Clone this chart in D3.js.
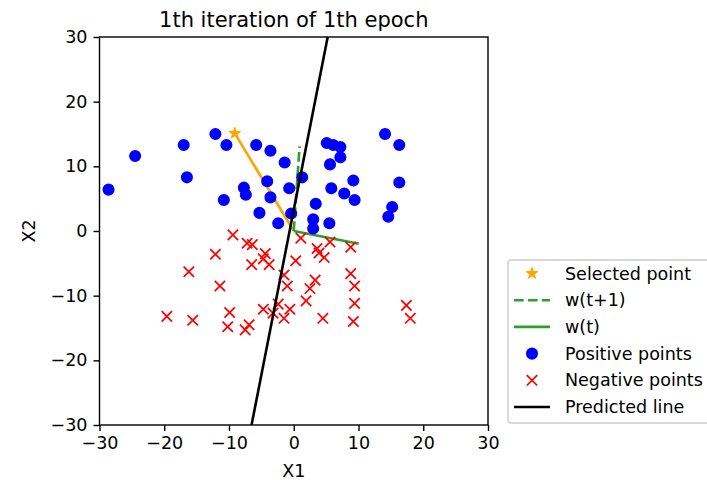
<!DOCTYPE html>
<html>
<head>
<meta charset="utf-8">
<script src="https://cdn.jsdelivr.net/npm/d3@7"></script>
<style>
  html, body { margin: 0; padding: 0; background: #fff; }
  svg { display: block; font-family: "DejaVu Sans", sans-serif; }
</style>
</head>
<body>
<svg id="chart" width="707" height="480"></svg>
<script>
// ---------------- data ----------------
const titleText = "1th iteration of 1th epoch";
const xTicks = [-30, -20, -10, 0, 10, 20, 30];
const yTicks = [-30, -20, -10, 0, 10, 20, 30];
const xTickLabels = ["\u221230", "\u221220", "\u221210", "0", "10", "20", "30"];
const yTickLabels = ["\u221230", "\u221220", "\u221210", "0", "10", "20", "30"];

const posX = [-28.6, -24.5, -17.0, -16.5, -12.1, -10.4, -5.8, -3.6, -1.4, -4.1, -0.7, -7.7, -7.4, -10.8, -5.3, -3.6, -2.4, -0.4, 1.3, 3.4, 3.0, 3.0, 5.5, 5.1, 6.1, 7.2, 7.2, 5.6, 5.8, 7.8, 9.2, 9.4, 14.1, 16.3, 16.3, 15.2, 14.6];
const posY = [6.4, 11.6, 13.3, 8.3, 15.0, 13.3, 13.3, 12.4, 10.6, 7.7, 6.6, 6.7, 5.6, 4.8, 2.8, 5.2, 1.2, 2.7, 8.3, 4.2, 1.8, 0.4, 1.2, 13.6, 13.3, 13.0, 11.4, 10.3, 6.6, 5.8, 7.8, 4.8, 15.0, 13.3, 7.5, 3.7, 2.2];

const negX = [-9.4, -7.2, -6.4, -12.1, -4.4, -4.7, -3.8, -6.5, -16.2, -1.5, -11.4, -1.0, -19.6, -15.6, -9.9, -10.2, -6.9, -7.5, -4.7, -3.2, -2.4, -0.6, -1.5, 0.3, 1.1, 5.6, 8.8, 3.6, 3.9, 4.7, 3.3, 2.5, 1.9, 4.5, 8.8, 9.4, 9.4, 9.2, 17.4, 18.0];
const negY = [-0.6, -1.9, -2.1, -3.6, -3.5, -4.3, -5.2, -5.2, -6.3, -6.8, -8.5, -8.5, -13.2, -13.8, -12.6, -14.8, -14.5, -15.3, -12.1, -12.7, -11.3, -12.1, -13.5, -4.6, -1.1, -1.7, -2.5, -2.7, -3.4, -4.1, -7.6, -8.9, -10.8, -13.5, -6.6, -8.5, -11.2, -14.0, -11.5, -13.5];

const selX = [-9.1];
const selY = [15.1];
const selLineX = [0, -9.1];
const selLineY = [0, 15.1];
const wNextX = [0, 0.9];
const wNextY = [0, 13.1];
const wCurX = [0, 10.05];
const wCurY = [0, -1.97];
const predX = [-6.52, 5.24];
const predY = [-30, 30];

const legendLabels = ["Selected point", "w(t+1)", "w(t)", "Positive points", "Negative points", "Predicted line"];

// ---------------- layout ----------------
const svg = d3.select("#chart");
const W = 707, H = 480;
const m = { left: 99.5, top: 37, right: 488, bottom: 425 };
const FS = 17.5;
const green = "#2ca02c";

svg.append("rect").attr("width", W).attr("height", H).attr("fill", "#fff");

const x = d3.scaleLinear().domain([-30, 30]).range([m.left, m.right]);
const y = d3.scaleLinear().domain([-30, 30]).range([m.bottom, m.top]);

svg.append("defs").append("clipPath").attr("id", "plotclip")
  .append("rect").attr("x", m.left).attr("y", m.top)
  .attr("width", m.right - m.left).attr("height", m.bottom - m.top);

const plot = svg.append("g").attr("clip-path", "url(#plotclip)");
const line = d3.line().x(d => x(d[0])).y(d => y(d[1]));
const zip = (a, b) => a.map((v, i) => [v, b[i]]);

const starSym = d3.symbol().type(d3.symbolStar).size(42);
function xPath(s) { return `M${-s},${-s}L${s},${s}M${-s},${s}L${s},${-s}`; }

// selected point line and star
plot.append("path").attr("d", line(zip(selLineX, selLineY)))
  .attr("fill", "none").attr("stroke", "#ffa500").attr("stroke-width", 2.6);
plot.selectAll(".star").data(zip(selX, selY)).join("path")
  .attr("transform", d => `translate(${x(d[0])},${y(d[1])})`)
  .attr("d", starSym()).attr("fill", "#ffa500").attr("stroke", "#ffa500").attr("stroke-width", 1);

// w(t+1) dashed
plot.append("path").attr("d", line(zip(wNextX, wNextY)))
  .attr("fill", "none").attr("stroke", green).attr("stroke-width", 2.6)
  .attr("stroke-dasharray", "9.7,4.2");
// w(t)
plot.append("path").attr("d", line(zip(wCurX, wCurY)))
  .attr("fill", "none").attr("stroke", green).attr("stroke-width", 2.6);

// positive points
plot.selectAll(".pos").data(zip(posX, posY)).join("circle")
  .attr("cx", d => x(d[0])).attr("cy", d => y(d[1])).attr("r", 5.3)
  .attr("fill", "#0000ff").attr("stroke", "#0000ff").attr("stroke-width", 1.5);

// negative points
plot.selectAll(".neg").data(zip(negX, negY)).join("path")
  .attr("transform", d => `translate(${x(d[0])},${y(d[1])})`)
  .attr("d", xPath(5.2)).attr("fill", "none").attr("stroke", "#ff0000").attr("stroke-width", 1.75);

// predicted line
plot.append("path").attr("d", line(zip(predX, predY)))
  .attr("fill", "none").attr("stroke", "#000").attr("stroke-width", 2.6);

// ---------------- axes ----------------
const xAxis = d3.axisBottom(x).tickValues(xTicks).tickFormat((d, i) => xTickLabels[i])
  .tickSizeInner(6).tickSizeOuter(0).tickPadding(6);
const yAxis = d3.axisLeft(y).tickValues(yTicks).tickFormat((d, i) => yTickLabels[i])
  .tickSizeInner(6).tickSizeOuter(0).tickPadding(6);

const gx = svg.append("g").attr("transform", `translate(0,${m.bottom})`).call(xAxis);
const gy = svg.append("g").attr("transform", `translate(${m.left},0)`).call(yAxis);
[gx, gy].forEach(g => {
  g.select(".domain").remove();
  g.selectAll(".tick line").attr("stroke", "#000").attr("stroke-width", 1.4);
  g.selectAll(".tick text").attr("fill", "#000").style("font-size", FS + "px")
    .style("font-family", "DejaVu Sans");
});

// frame
svg.append("rect").attr("x", m.left).attr("y", m.top)
  .attr("width", m.right - m.left).attr("height", m.bottom - m.top)
  .attr("fill", "none").attr("stroke", "#000").attr("stroke-width", 1.4);

// labels
svg.append("text").attr("x", (m.left + m.right) / 2).attr("y", 477)
  .attr("text-anchor", "middle").style("font-size", FS + "px").text("X1");
svg.append("text").attr("transform", `translate(34.5,${(m.top + m.bottom) / 2}) rotate(-90)`)
  .attr("text-anchor", "middle").style("font-size", FS + "px").text("X2");
svg.append("text").attr("x", (m.left + m.right) / 2).attr("y", 27)
  .attr("text-anchor", "middle").style("font-size", "21px").text(titleText);

// ---------------- legend ----------------
const lg = svg.append("g");
lg.append("rect").attr("x", 508).attr("y", 260).attr("width", 205).attr("height", 163)
  .attr("rx", 3).attr("fill", "#fff").attr("fill-opacity", 0.8)
  .attr("stroke", "#cccccc").attr("stroke-width", 1.4);

const rowY = i => 273.5 + i * 26.7;
const hx0 = 514, hx1 = 550, hxm = 532, tx = 565;

legendLabels.forEach((lab, i) => {
  const cy = rowY(i);
  const g = lg.append("g");
  if (i === 0) {
    g.append("path").attr("transform", `translate(${hxm},${cy})`).attr("d", starSym())
      .attr("fill", "#ffa500").attr("stroke", "#ffa500").attr("stroke-width", 1);
  } else if (i === 1) {
    g.append("line").attr("x1", hx0).attr("x2", hx1).attr("y1", cy).attr("y2", cy)
      .attr("stroke", green).attr("stroke-width", 2.6).attr("stroke-dasharray", "9.7,4.2");
  } else if (i === 2) {
    g.append("line").attr("x1", hx0).attr("x2", hx1).attr("y1", cy).attr("y2", cy)
      .attr("stroke", green).attr("stroke-width", 2.6);
  } else if (i === 3) {
    g.append("circle").attr("cx", hxm).attr("cy", cy).attr("r", 5.3)
      .attr("fill", "#0000ff").attr("stroke", "#0000ff").attr("stroke-width", 1.5);
  } else if (i === 4) {
    g.append("path").attr("transform", `translate(${hxm},${cy})`).attr("d", xPath(5.2))
      .attr("fill", "none").attr("stroke", "#ff0000").attr("stroke-width", 1.75);
  } else {
    g.append("line").attr("x1", hx0).attr("x2", hx1).attr("y1", cy).attr("y2", cy)
      .attr("stroke", "#000").attr("stroke-width", 2.6);
  }
  g.append("text").attr("x", tx).attr("y", cy).attr("dy", "0.35em")
    .style("font-size", FS + "px").attr("fill", "#000").text(lab);
});
</script>
</body>
</html>
